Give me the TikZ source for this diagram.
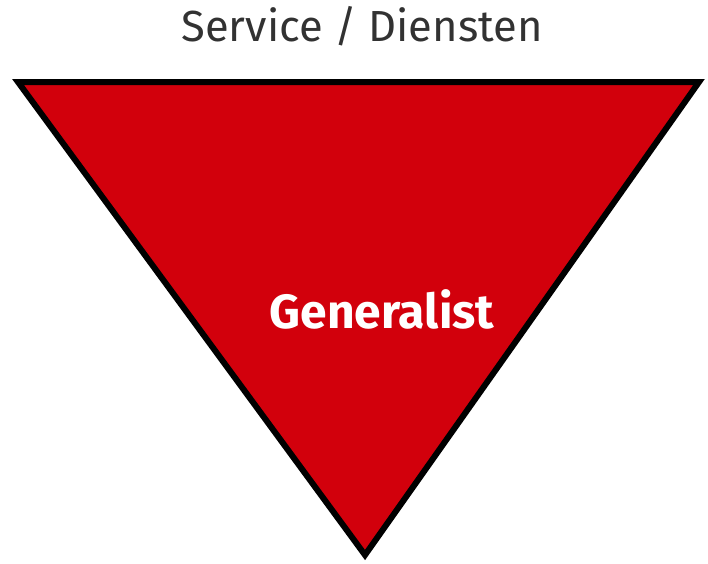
\documentclass[tikz,border=0pt]{standalone}
\usepackage{fontspec}
\setmainfont{Fira Sans}
\definecolor{trired}{RGB}{210,0,12}
\definecolor{titlegrey}{RGB}{50,50,50}
\begin{document}
\begin{tikzpicture}[x=1pt,y=-1pt,
  tri/.style={draw=black,line width=6pt,fill=trired,line join=miter},
  titletext/.style={text=titlegrey,font=\fontsize{43.5}{50}\selectfont,inner sep=0pt},
  inlabel/.style={text=white,font=\fontsize{48}{54}\selectfont\bfseries,inner sep=0pt}]
\useasboundingbox (0,0) rectangle (708,563);
\coordinate (tl) at (18,82);
\coordinate (tr) at (699,82);
\coordinate (bt) at (365,555);
\draw[tri] (tl) -- (tr) -- (bt) -- cycle;
\node[titletext,anchor=base] (title) at (362,41) {Service / Diensten};
\node[inlabel,anchor=base] (gen) at (382,328) {Generalist};
\end{tikzpicture}
\end{document}
